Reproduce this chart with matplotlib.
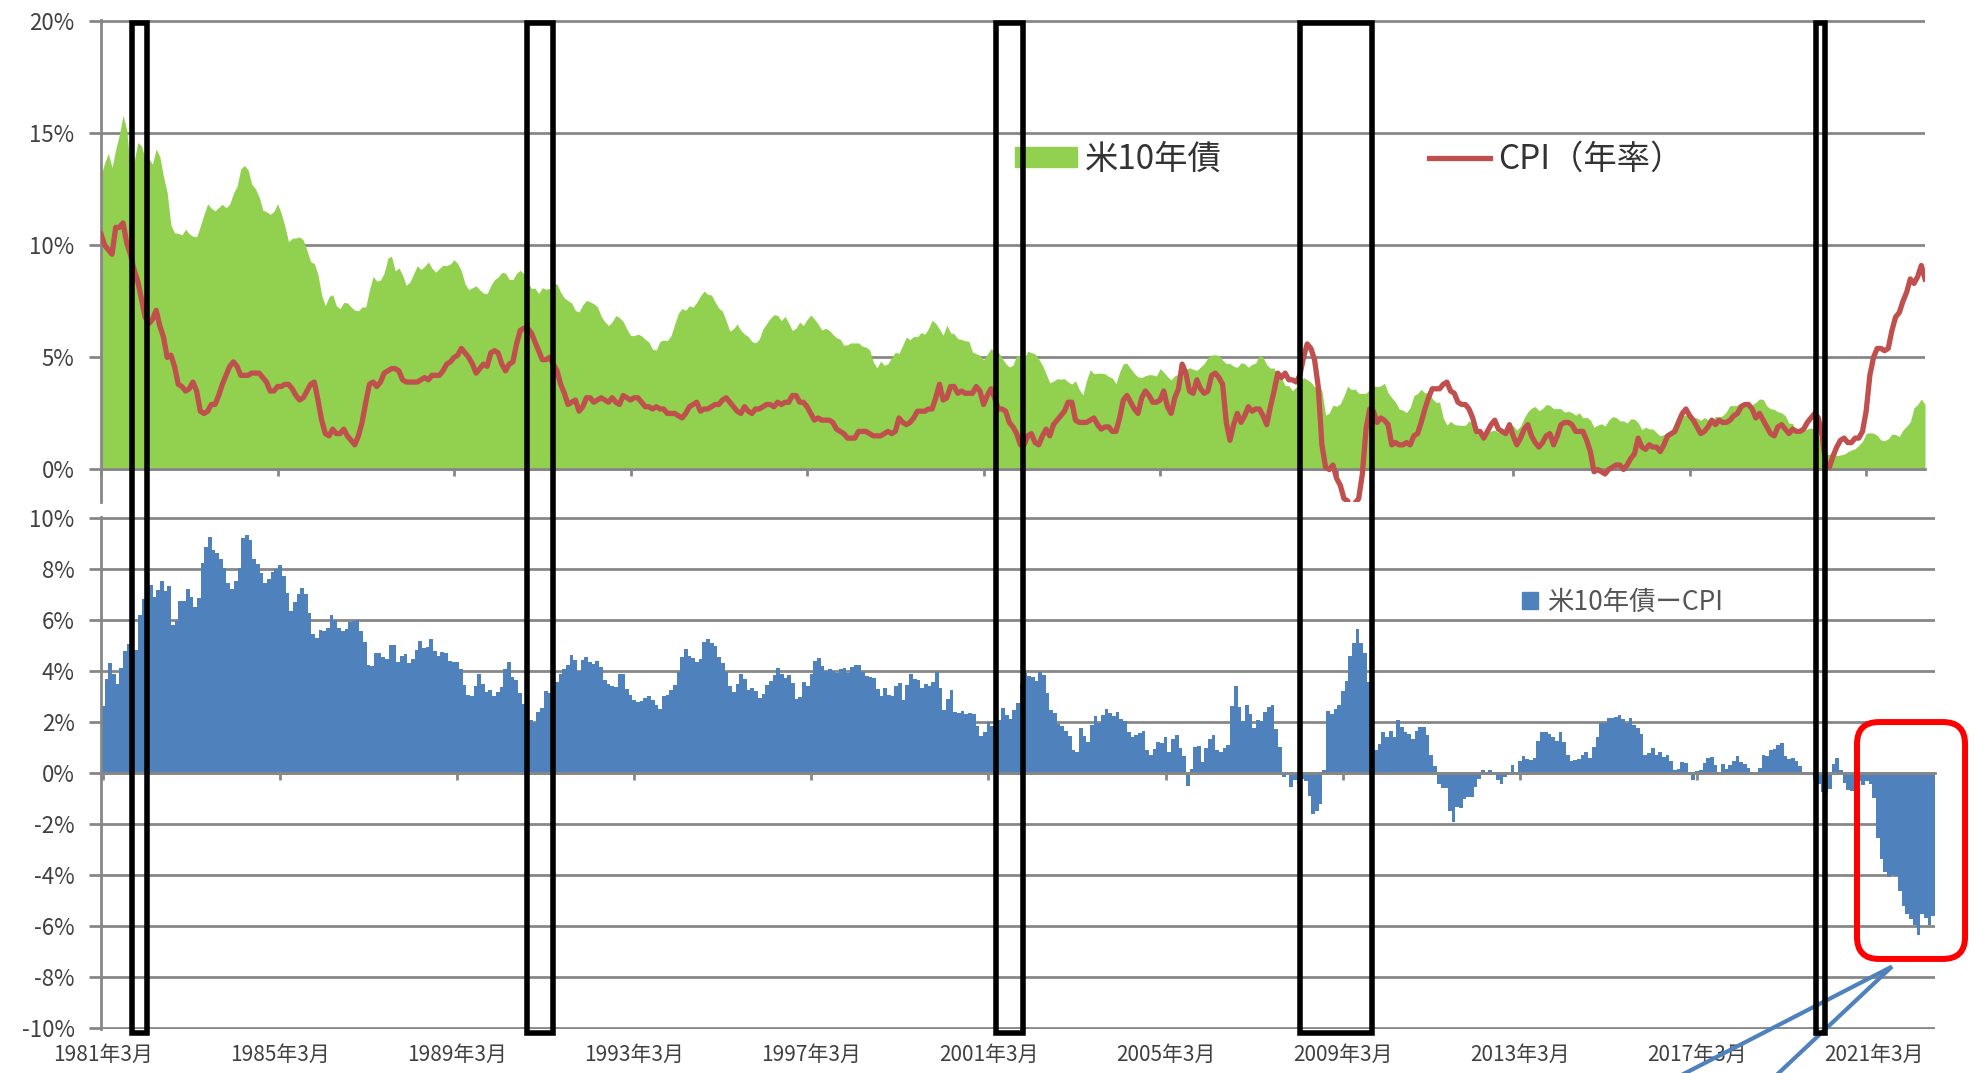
import numpy as np
import matplotlib
matplotlib.use("Agg")
import matplotlib.pyplot as plt
import matplotlib.transforms as mtransforms
from matplotlib.patches import Rectangle, FancyBboxPatch, Patch
from matplotlib.lines import Line2D

plt.rcParams['font.family'] = ['Noto Sans CJK JP', 'DejaVu Sans']

# monthly data, first month = 1981-03, last = 2022-07
START_YEAR = 1981
START_MONTH = 3

# US 10y treasury yield (%)
yield_10y = [
    13.12, 13.68, 14.10, 13.47, 14.28, 14.94, 15.80, 15.15, 13.39, 13.72,  # 1981 (Mar-)
    14.59, 14.43, 13.86, 13.87, 13.62, 14.30, 13.95, 13.06, 12.34, 10.91, 10.55, 10.54,
    10.46, 10.72, 10.51, 10.40, 10.38, 10.85, 11.38, 11.85, 11.65, 11.54, 11.69, 11.83,
    11.67, 11.84, 12.32, 12.63, 13.41, 13.56, 13.36, 12.72, 12.52, 12.16, 11.57, 11.50,
    11.38, 11.51, 11.86, 11.43, 10.85, 10.16, 10.31, 10.33, 10.37, 10.24, 9.78, 9.26,
    9.19, 8.70, 7.78, 7.30, 7.71, 7.80, 7.30, 7.17, 7.45, 7.43, 7.25, 7.11,
    7.08, 7.25, 7.25, 8.02, 8.61, 8.40, 8.45, 8.76, 9.42, 9.52, 8.86, 8.99,
    8.67, 8.21, 8.37, 8.72, 9.09, 8.92, 9.06, 9.26, 8.98, 8.80, 8.96, 9.11,
    9.09, 9.17, 9.36, 9.18, 8.86, 8.28, 8.02, 8.11, 8.19, 8.01, 7.87, 7.84,
    8.21, 8.47, 8.59, 8.79, 8.76, 8.48, 8.47, 8.75, 8.89, 8.72, 8.39, 8.08,
    8.09, 7.85, 8.11, 8.04, 8.07, 8.28, 8.27, 7.90, 7.65, 7.53, 7.42, 7.09,
    7.03, 7.34, 7.54, 7.48, 7.39, 7.26, 6.84, 6.59, 6.42, 6.59, 6.87, 6.77,
    6.60, 6.26, 5.98, 5.97, 6.04, 5.96, 5.81, 5.68, 5.36, 5.33, 5.72, 5.77,
    5.75, 5.97, 6.48, 6.97, 7.18, 7.10, 7.30, 7.24, 7.46, 7.74, 7.96, 7.81,
    7.78, 7.47, 7.20, 7.06, 6.63, 6.17, 6.28, 6.49, 6.20, 6.04, 5.93, 5.71,
    5.65, 5.81, 6.27, 6.51, 6.74, 6.91, 6.87, 6.64, 6.83, 6.53, 6.20, 6.30,
    6.58, 6.42, 6.69, 6.89, 6.71, 6.49, 6.22, 6.30, 6.21, 6.03, 5.88, 5.81,
    5.54, 5.57, 5.65, 5.64, 5.65, 5.50, 5.46, 5.34, 4.81, 4.53, 4.83, 4.65,
    4.72, 5.00, 5.23, 5.18, 5.54, 5.90, 5.79, 5.94, 5.92, 6.11, 6.03, 6.28,
    6.66, 6.52, 6.26, 5.99, 6.44, 6.10, 6.05, 5.83, 5.80, 5.74, 5.72, 5.24,
    5.16, 5.10, 4.89, 5.14, 5.39, 5.28, 5.24, 4.97, 4.73, 4.57, 4.65, 5.09,
    5.04, 4.91, 5.28, 5.21, 5.16, 4.93, 4.65, 4.26, 3.87, 3.94, 4.05, 4.03,
    4.05, 3.90, 3.81, 3.96, 3.57, 3.33, 3.98, 4.45, 4.27, 4.29, 4.30, 4.27,
    4.15, 4.08, 3.83, 4.35, 4.72, 4.73, 4.50, 4.28, 4.13, 4.10, 4.19, 4.23,
    4.22, 4.17, 4.50, 4.34, 4.14, 4.00, 4.18, 4.26, 4.20, 4.46, 4.54, 4.47,
    4.42, 4.57, 4.72, 4.99, 5.11, 5.11, 5.09, 4.88, 4.72, 4.73, 4.60, 4.56,
    4.76, 4.72, 4.56, 4.69, 4.75, 5.10, 5.00, 4.67, 4.52, 4.53, 4.15, 4.10,
    3.74, 3.74, 3.51, 3.68, 3.88, 4.10, 4.01, 3.89, 3.69, 3.81, 3.53, 2.42,
    2.52, 2.87, 2.82, 2.93, 3.29, 3.72, 3.56, 3.59, 3.40, 3.39, 3.40, 3.59,
    3.73, 3.69, 3.73, 3.85, 3.42, 3.20, 3.01, 2.70, 2.65, 2.54, 2.76, 3.29,
    3.39, 3.58, 3.41, 3.46, 3.17, 3.00, 3.00, 2.30, 1.98, 2.15, 2.01, 1.98,
    1.97, 1.97, 2.17, 2.05, 1.80, 1.62, 1.53, 1.68, 1.72, 1.75, 1.65, 1.72,
    1.91, 1.98, 1.96, 1.76, 1.93, 2.30, 2.58, 2.74, 2.81, 2.62, 2.72, 2.90,
    2.86, 2.71, 2.72, 2.71, 2.56, 2.60, 2.54, 2.42, 2.53, 2.30, 2.33, 2.21,
    1.88, 1.98, 2.04, 1.94, 2.20, 2.36, 2.32, 2.17, 2.17, 2.07, 2.26, 2.24,
    2.09, 1.78, 1.89, 1.81, 1.81, 1.64, 1.50, 1.56, 1.63, 1.76, 2.14, 2.49,
    2.43, 2.42, 2.48, 2.30, 2.30, 2.19, 2.32, 2.21, 2.20, 2.36, 2.35, 2.40,
    2.58, 2.86, 2.84, 2.87, 2.98, 2.91, 2.89, 2.89, 3.00, 3.15, 3.12, 2.83,
    2.71, 2.68, 2.57, 2.53, 2.40, 2.07, 2.06, 1.63, 1.70, 1.71, 1.81, 1.86,
    1.76, 1.50, 0.87, 0.66, 0.67, 0.73, 0.62, 0.65, 0.68, 0.79, 0.87, 0.93,
    1.08, 1.26, 1.61, 1.64, 1.62, 1.52, 1.32, 1.28, 1.37, 1.58, 1.56, 1.47,
    1.76, 1.93, 2.13, 2.75, 2.90, 3.14, 2.90,  # 2022 (-Jul)
]

# US CPI, year over year (%)
cpi_yoy = [
    10.5, 10.0, 9.8, 9.6, 10.8, 10.8, 11.0, 10.1, 9.6, 8.9,  # 1981 (Mar-)
    8.4, 7.6, 6.8, 6.5, 6.7, 7.1, 6.4, 5.9, 5.0, 5.1, 4.6, 3.8,
    3.7, 3.5, 3.6, 3.9, 3.5, 2.6, 2.5, 2.6, 2.9, 2.9, 3.3, 3.8,
    4.2, 4.6, 4.8, 4.6, 4.2, 4.2, 4.2, 4.3, 4.3, 4.3, 4.1, 3.9,
    3.5, 3.5, 3.7, 3.7, 3.8, 3.8, 3.6, 3.3, 3.1, 3.2, 3.5, 3.8,
    3.9, 3.1, 2.2, 1.6, 1.5, 1.8, 1.6, 1.6, 1.8, 1.5, 1.3, 1.1,
    1.5, 2.1, 3.0, 3.8, 3.9, 3.7, 3.9, 4.3, 4.4, 4.5, 4.5, 4.4,
    4.0, 3.9, 3.9, 3.9, 3.9, 4.0, 4.1, 4.0, 4.2, 4.2, 4.2, 4.4,
    4.7, 4.8, 5.0, 5.1, 5.4, 5.2, 5.0, 4.7, 4.3, 4.5, 4.7, 4.6,
    5.2, 5.3, 5.2, 4.7, 4.4, 4.7, 4.8, 5.6, 6.2, 6.3, 6.3, 6.1,
    5.7, 5.3, 4.9, 4.9, 5.0, 4.7, 4.4, 3.8, 3.4, 2.9, 3.0, 3.1,
    2.6, 2.8, 3.2, 3.2, 3.0, 3.1, 3.2, 3.1, 3.0, 3.2, 3.0, 2.9,
    3.3, 3.2, 3.1, 3.2, 3.2, 3.0, 2.8, 2.8, 2.7, 2.8, 2.7, 2.7,
    2.5, 2.5, 2.5, 2.4, 2.3, 2.5, 2.8, 2.9, 3.0, 2.6, 2.7, 2.7,
    2.8, 2.9, 2.9, 3.1, 3.2, 3.0, 2.8, 2.6, 2.5, 2.8, 2.6, 2.5,
    2.7, 2.7, 2.8, 2.9, 2.9, 2.8, 3.0, 2.9, 3.0, 3.0, 3.3, 3.3,
    3.0, 3.0, 2.8, 2.5, 2.2, 2.3, 2.2, 2.2, 2.2, 2.1, 1.8, 1.7,
    1.6, 1.4, 1.4, 1.4, 1.7, 1.7, 1.7, 1.6, 1.5, 1.5, 1.5, 1.6,
    1.7, 1.6, 1.7, 2.3, 2.1, 2.0, 2.1, 2.3, 2.6, 2.6, 2.6, 2.7,
    2.7, 3.2, 3.8, 3.1, 3.2, 3.7, 3.7, 3.4, 3.5, 3.4, 3.4, 3.4,
    3.7, 3.5, 2.9, 3.3, 3.6, 3.2, 2.7, 2.7, 2.6, 2.1, 1.9, 1.6,
    1.1, 1.1, 1.5, 1.6, 1.2, 1.1, 1.5, 1.8, 1.5, 2.0, 2.2, 2.4,
    2.6, 3.0, 3.0, 2.2, 2.1, 2.1, 2.1, 2.2, 2.3, 2.0, 1.8, 1.9,
    1.9, 1.7, 1.7, 2.3, 3.1, 3.3, 3.0, 2.7, 2.5, 3.2, 3.5, 3.3,
    3.0, 3.0, 3.1, 3.5, 2.8, 2.5, 3.2, 3.6, 4.7, 4.3, 3.5, 3.4,
    4.0, 3.6, 3.4, 3.5, 4.2, 4.3, 4.1, 3.8, 2.1, 1.3, 2.0, 2.5,
    2.1, 2.4, 2.8, 2.6, 2.7, 2.7, 2.4, 2.0, 2.8, 3.5, 4.3, 4.1,
    4.3, 4.0, 4.0, 3.9, 4.2, 5.0, 5.6, 5.4, 4.9, 3.7, 1.1, 0.1,
    0.0, 0.2, -0.4, -0.7, -1.3, -1.4, -2.1, -1.5, -1.3, -0.2, 1.8, 2.7,
    2.6, 2.1, 2.3, 2.2, 2.0, 1.1, 1.2, 1.1, 1.1, 1.2, 1.1, 1.5,
    1.6, 2.1, 2.7, 3.2, 3.6, 3.6, 3.6, 3.8, 3.9, 3.5, 3.4, 3.0,
    2.9, 2.9, 2.7, 2.3, 1.7, 1.7, 1.4, 1.7, 2.0, 2.2, 1.8, 1.7,
    1.6, 2.0, 1.5, 1.1, 1.4, 1.8, 2.0, 1.5, 1.2, 1.0, 1.2, 1.5,
    1.6, 1.1, 1.5, 2.0, 2.1, 2.1, 2.0, 1.7, 1.7, 1.7, 1.3, 0.8,
    -0.1, 0.0, -0.1, -0.2, 0.0, 0.1, 0.2, 0.2, 0.0, 0.2, 0.5, 0.7,
    1.4, 1.0, 0.9, 1.1, 1.0, 1.0, 0.8, 1.1, 1.5, 1.6, 1.7, 2.1,
    2.5, 2.7, 2.4, 2.2, 1.9, 1.6, 1.7, 1.9, 2.2, 2.0, 2.2, 2.1,
    2.1, 2.2, 2.4, 2.5, 2.8, 2.9, 2.9, 2.7, 2.3, 2.5, 2.2, 1.9,
    1.6, 1.5, 1.9, 2.0, 1.8, 1.6, 1.8, 1.7, 1.7, 1.8, 2.1, 2.3,
    2.5, 2.3, 1.5, 0.3, 0.1, 0.6, 1.0, 1.3, 1.4, 1.2, 1.2, 1.4,
    1.4, 1.7, 2.6, 4.2, 5.0, 5.4, 5.4, 5.3, 5.4, 6.2, 6.8, 7.0,
    7.5, 7.9, 8.5, 8.3, 8.6, 9.1, 8.5,  # 2022 (-Jul)
]

tick_labels = ["1981年3月", "1985年3月", "1989年3月", "1993年3月", "1997年3月",
               "2001年3月", "2005年3月", "2009年3月", "2013年3月", "2017年3月",
               "2021年3月"]

label_yield = "米10年債"
label_cpi = "CPI（年率）"
label_spread = "米10年債ーCPI"

# hand drawn black boxes (decimal years)
box_years = [(1981.88, 1982.20), (1990.82, 1991.41), (2001.45, 2002.06),
             (2008.33, 2009.97), (2020.03, 2020.24)]
# red highlight box and blue callout (decimal years, %)
red_box = (2020.78, 2023.22, -7.3, 2.0)
callout = [(2016.1, -12.5), (2021.57, -7.6), (2018.57, -12.5)]

GREEN = '#92D050'
RED = '#C0504D'
BLUE = '#4F81BD'
GRID = '#878787'
TXT = '#404040'


def to_idx(yr):
    return (yr - (START_YEAR + (START_MONTH - 1) / 12)) * 12


y10 = np.array(yield_10y)
cpi = np.array(cpi_yoy)
spread = y10 - cpi  # 米10年債 - CPI
x = np.arange(len(y10))
n = len(x)

W, H = 1975, 1073
fig = plt.figure(figsize=(W / 100, H / 100), dpi=100)
fig.patch.set_facecolor('white')

ax1 = fig.add_axes([101 / W, 1 - 502 / H, (1925 - 101) / W, (502 - 20) / H])
ax2 = fig.add_axes([101 / W, 1 - 1029 / H, (1935 - 101) / W, (1029 - 517) / H])

# top panel
ax1.fill_between(x, 0, y10, color=GREEN, lw=0, zorder=1)
ax1.plot(x, cpi, color=RED, lw=3.8, zorder=3, solid_joinstyle='round')
ax1.set_xlim(0, n - 1)
ax1.set_ylim(-1.45, 20.05)
ax1.set_yticks([0, 5, 10, 15, 20])
ax1.set_yticklabels([f"{v}%" for v in [0, 5, 10, 15, 20]])
ax1.set_xticks(range(0, n, 48))
ax1.tick_params(axis='x', direction='out', length=5, width=2, color=GRID, labelbottom=False)

# bottom panel
ax2.bar(x, spread, width=1.0, color=BLUE, linewidth=0, zorder=1)
ax2.set_xlim(-0.5, n - 0.5)
ax2.set_ylim(-10.05, 10.05)
ax2.set_yticks(range(-10, 11, 2))
ax2.set_yticklabels([f"{v}%" for v in range(-10, 11, 2)])
ax2.set_xticks(range(0, n, 48))
ax2.tick_params(axis='x', direction='out', length=5, width=2, color=GRID, labelbottom=False)

sec = ax2.secondary_xaxis(0)
sec.set_xticks(range(0, n, 48), labels=tick_labels)
sec.tick_params(length=0, pad=11, labelsize=15, labelcolor=TXT)
sec.spines['bottom'].set_visible(False)

for ax in (ax1, ax2):
    ax.set_axisbelow(True)
    ax.yaxis.grid(True, color=GRID, lw=2.0)
    ax.spines['top'].set_visible(False)
    ax.spines['right'].set_visible(False)
    ax.spines['left'].set_color(GRID)
    ax.spines['left'].set_linewidth(2.0)
    ax.spines['bottom'].set_position(('data', 0))
    ax.spines['bottom'].set_color(GRID)
    ax.spines['bottom'].set_linewidth(2.0)
    ax.tick_params(axis='y', direction='out', length=9, width=2, color=GRID,
                   labelsize=16, labelcolor=TXT, pad=10)

# legends
leg1 = ax1.legend(handles=[Patch(color=GREEN, label=label_yield),
                           Line2D([], [], color=RED, lw=3.8, label=label_cpi)],
                  loc='center left', bbox_to_anchor=(1015 / W, 1 - 159 / H),
                  bbox_transform=fig.transFigure, ncol=2, frameon=False,
                  fontsize=24, handlelength=1.85, handleheight=0.55,
                  handletextpad=0.25, columnspacing=6.2, borderpad=0,
                  borderaxespad=0, labelcolor='#333333')
leg2 = ax2.legend(handles=[Patch(color=BLUE, label=label_spread)],
                  loc='center left', bbox_to_anchor=(1522 / W, 1 - 602 / H),
                  bbox_transform=fig.transFigure, frameon=False, fontsize=19,
                  handlelength=0.62, handleheight=0.62, handletextpad=0.35,
                  borderpad=0, borderaxespad=0, labelcolor='#555555')

# black boxes spanning both panels
box_tr = mtransforms.blended_transform_factory(ax1.transData, fig.transFigure)
y_top = 1 - 23 / H
y_bot = 1 - 1033 / H
for a, b in box_years:
    r = Rectangle((to_idx(a), y_bot), to_idx(b) - to_idx(a), y_top - y_bot,
                  transform=box_tr, fill=False, edgecolor='black', lw=4,
                  joinstyle='miter', clip_on=False, zorder=10)
    fig.add_artist(r)

# red rounded box on the bottom panel (drawn in pixels for round corners)
x0, x1, yb, yt = red_box
p0 = ax2.transData.transform((to_idx(x0), yb))
p1 = ax2.transData.transform((to_idx(x1), yt))
red = FancyBboxPatch((p0[0], p0[1]), p1[0] - p0[0], p1[1] - p0[1],
                     boxstyle="round,pad=0,rounding_size=22",
                     transform=mtransforms.IdentityTransform(),
                     fill=False, edgecolor='#FF0000', lw=4.3, clip_on=False, zorder=11)
fig.add_artist(red)

ax2.plot([to_idx(p[0]) for p in callout], [p[1] for p in callout],
         color=BLUE, lw=3, clip_on=False, zorder=11, solid_joinstyle='miter')

fig.savefig("out.png", dpi=100)
